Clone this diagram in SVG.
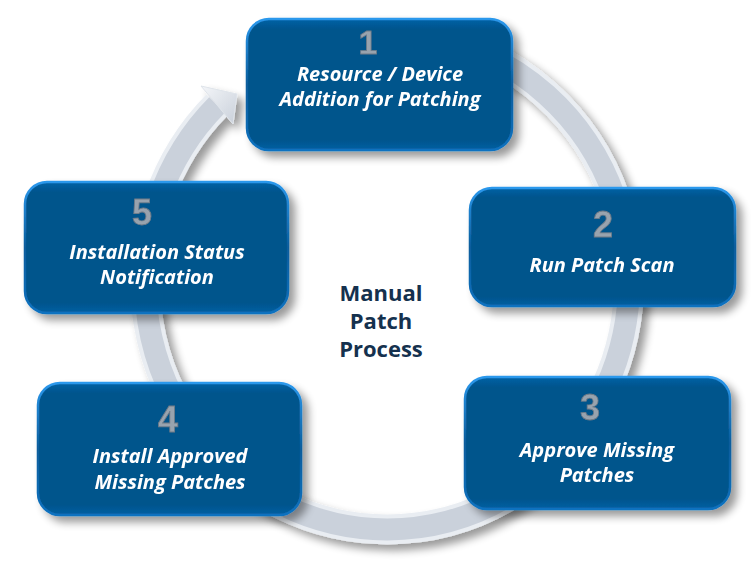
<svg xmlns="http://www.w3.org/2000/svg" width="755" height="566" viewBox="0 0 755 566">
  <defs>
    <filter id="shadow" filterUnits="userSpaceOnUse" x="0" y="0" width="755" height="566">
      <feGaussianBlur in="SourceAlpha" stdDeviation="4"/>
      <feOffset dx="6" dy="6" result="o"/>
      <feComponentTransfer><feFuncA type="linear" slope="0.4"/></feComponentTransfer>
      <feMerge><feMergeNode/><feMergeNode in="SourceGraphic"/></feMerge>
    </filter>
    <linearGradient id="rim" x1="0" y1="0" x2="0" y2="1">
      <stop offset="0" stop-color="#2b98ec"/>
      <stop offset="0.5" stop-color="#0a5d9c"/>
      <stop offset="1" stop-color="#1172c0"/>
    </linearGradient>
    <linearGradient id="fillg" x1="0" y1="0" x2="0" y2="1">
      <stop offset="0" stop-color="#0462a6"/>
      <stop offset="0.08" stop-color="#03548c"/>
      <stop offset="0.92" stop-color="#03548c"/>
      <stop offset="1" stop-color="#0760a3"/>
    </linearGradient>
    <linearGradient id="arrowg" x1="0" y1="0" x2="1" y2="1">
      <stop offset="0" stop-color="#f4f6f9"/>
      <stop offset="1" stop-color="#c9d0da"/>
    </linearGradient>
  </defs>
  <style>
    .box { fill: url(#fillg); stroke: url(#rim); stroke-width: 2.5; }
    .num { font-family: "Liberation Sans", Arial, sans-serif; font-size: 36px; font-weight: bold; fill: #98a3ae; stroke: #6f7b87; stroke-width: 0.8; text-anchor: middle; }
    .lbl { font-family: "Open Sans", "DejaVu Sans", sans-serif; font-size: 20px; font-weight: bold; font-style: italic; fill: #ffffff; text-anchor: middle; }
    .title { font-family: "Open Sans", "DejaVu Sans", sans-serif; font-size: 22px; font-weight: bold; fill: #15314e; text-anchor: middle; }
  </style>

  <g id="connectors" filter="url(#shadow)">
    <path id="ring-edge" d="M 330 40.4 A 242 248 0 1 1 217 105" fill="none" stroke="#e9edf2" stroke-width="30"/>
    <path id="ring" d="M 330 40.4 A 242 248 0 1 1 217 105" fill="none" stroke="#cad1db" stroke-width="22"/>
    <polygon id="arrowhead" points="201,86 237,94 233,124" fill="url(#arrowg)" stroke="#dfe4ea" stroke-width="1"/>
  </g>

  <g id="node1" filter="url(#shadow)">
    <rect class="box" x="247" y="19" width="265" height="131" rx="22"/>
    <text class="num" x="368" y="54" style="font-size:34px">1</text>
    <text class="lbl"><tspan x="380" y="81">Resource / Device</tspan><tspan x="380" y="106">Addition for Patching</tspan></text>
  </g>

  <g id="node2" filter="url(#shadow)">
    <rect class="box" x="470" y="188" width="265" height="118" rx="22"/>
    <text class="num" x="603" y="237">2</text>
    <text class="lbl" x="602" y="272">Run Patch Scan</text>
  </g>

  <g id="node3" filter="url(#shadow)">
    <rect class="box" x="465" y="377" width="265" height="132" rx="22"/>
    <text class="num" x="590" y="420">3</text>
    <text class="lbl"><tspan x="597" y="457">Approve Missing</tspan><tspan x="597" y="482">Patches</tspan></text>
  </g>

  <g id="node4" filter="url(#shadow)">
    <rect class="box" x="38" y="383" width="263" height="132" rx="22"/>
    <text class="num" x="168" y="432">4</text>
    <text class="lbl"><tspan x="170" y="463">Install Approved</tspan><tspan x="170" y="489">Missing Patches</tspan></text>
  </g>

  <g id="node5" filter="url(#shadow)">
    <rect class="box" x="25" y="182" width="263" height="131" rx="22"/>
    <text class="num" x="142" y="225">5</text>
    <text class="lbl"><tspan x="157" y="259">Installation Status</tspan><tspan x="157" y="284">Notification</tspan></text>
  </g>

  <g id="center-title">
    <text class="title"><tspan x="381" y="301">Manual</tspan><tspan x="381" y="329">Patch</tspan><tspan x="381" y="357">Process</tspan></text>
  </g>
</svg>
